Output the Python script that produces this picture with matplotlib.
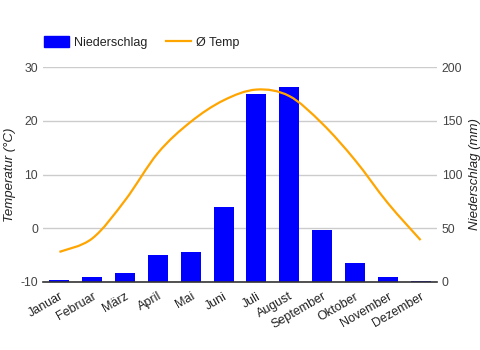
import matplotlib
matplotlib.use("Agg")
import matplotlib.pyplot as plt
from matplotlib.path import Path
from matplotlib.patches import PathPatch, Patch
from matplotlib.lines import Line2D
import numpy as np

plt.rcParams['font.family'] = ['Liberation Sans', 'DejaVu Sans']
plt.rcParams['axes.unicode_minus'] = False

months = ['Januar', 'Februar', 'März', 'April', 'Mai', 'Juni', 'Juli',
          'August', 'September', 'Oktober', 'November', 'Dezember']
niederschlag = [2, 5, 8, 25, 28, 70, 175, 181, 48, 18, 5, 1]
temp = [-4.4, -1.9, 5.2, 14.0, 19.8, 23.8, 25.8, 24.6, 19.5, 12.7, 4.7, -2.2]

fig = plt.figure(figsize=(4.81, 3.5), dpi=100)
ax_t = fig.add_axes([43 / 481, 68 / 350, 394 / 481, 215 / 350])
ax_p = ax_t.twinx()

x = np.arange(len(months))

# bars (precipitation, right axis)
ax_p.bar(x, niederschlag, width=0.61, color='#0000ff', zorder=2)
ax_p.set_ylim(0, 200)
ax_p.set_yticks([0, 50, 100, 150, 200])
ax_p.yaxis.grid(True, color='#cccccc', lw=1, zorder=0)
ax_p.set_axisbelow(True)

# smooth temperature curve (catmull-rom -> bezier), left axis
verts = [(x[0], temp[0])]
codes = [Path.MOVETO]
pts = list(zip(x, temp))
for i in range(len(pts) - 1):
    p0 = pts[i - 1] if i > 0 else pts[i]
    p1 = pts[i]
    p2 = pts[i + 1]
    p3 = pts[i + 2] if i + 2 < len(pts) else pts[i + 1]
    c1 = (p1[0] + (p2[0] - p0[0]) / 6, p1[1] + (p2[1] - p0[1]) / 6)
    c2 = (p2[0] - (p3[0] - p1[0]) / 6, p2[1] - (p3[1] - p1[1]) / 6)
    verts += [c1, c2, p2]
    codes += [Path.CURVE4] * 3
ax_t.add_patch(PathPatch(Path(verts, codes), facecolor='none',
                         edgecolor='#ffa500', lw=1.6, zorder=3))
ax_t.set_ylim(-10, 30)
ax_t.set_yticks([-10, 0, 10, 20, 30])
ax_t.set_xlim(-0.5, 11.5)

# line above bars
ax_t.set_zorder(ax_p.get_zorder() + 1)
ax_t.patch.set_visible(False)
ax_p.patch.set_facecolor('white')

for a in (ax_t, ax_p):
    for s in a.spines.values():
        s.set_visible(False)
    a.tick_params(axis='y', length=0, pad=3.5, labelsize=8.8, labelcolor='#444444')
ax_p.spines['bottom'].set_visible(True)
ax_p.spines['bottom'].set_color('#333333')
ax_p.spines['bottom'].set_linewidth(1.2)

ax_t.set_xticks(x)
ax_t.set_xticklabels(months, rotation=30, ha='right', rotation_mode='anchor',
                     fontsize=9, color='#222222')
ax_t.tick_params(axis='x', length=0, pad=6)

ax_t.set_ylabel('Temperatur (°C)', fontsize=9.5, style='italic', color='#222222')
ax_t.yaxis.set_label_coords(-0.068, 0.5)
ax_p.set_ylabel('Niederschlag (mm)', fontsize=9.5, style='italic', color='#222222')
ax_p.yaxis.set_label_coords(1.08, 0.5)

handles = [Patch(color='#0000ff'), Line2D([], [], color='#ffa500', lw=1.6)]
fig.legend(handles, ['Niederschlag', 'Ø Temp'], loc='upper left',
           bbox_to_anchor=(33 / 481, 1 - 25 / 350), ncol=2, frameon=False,
           fontsize=9, handlelength=1.95, handleheight=1.0, columnspacing=1.5,
           handletextpad=0.45, labelcolor='#222222')

fig.savefig('out.png', dpi=100)
